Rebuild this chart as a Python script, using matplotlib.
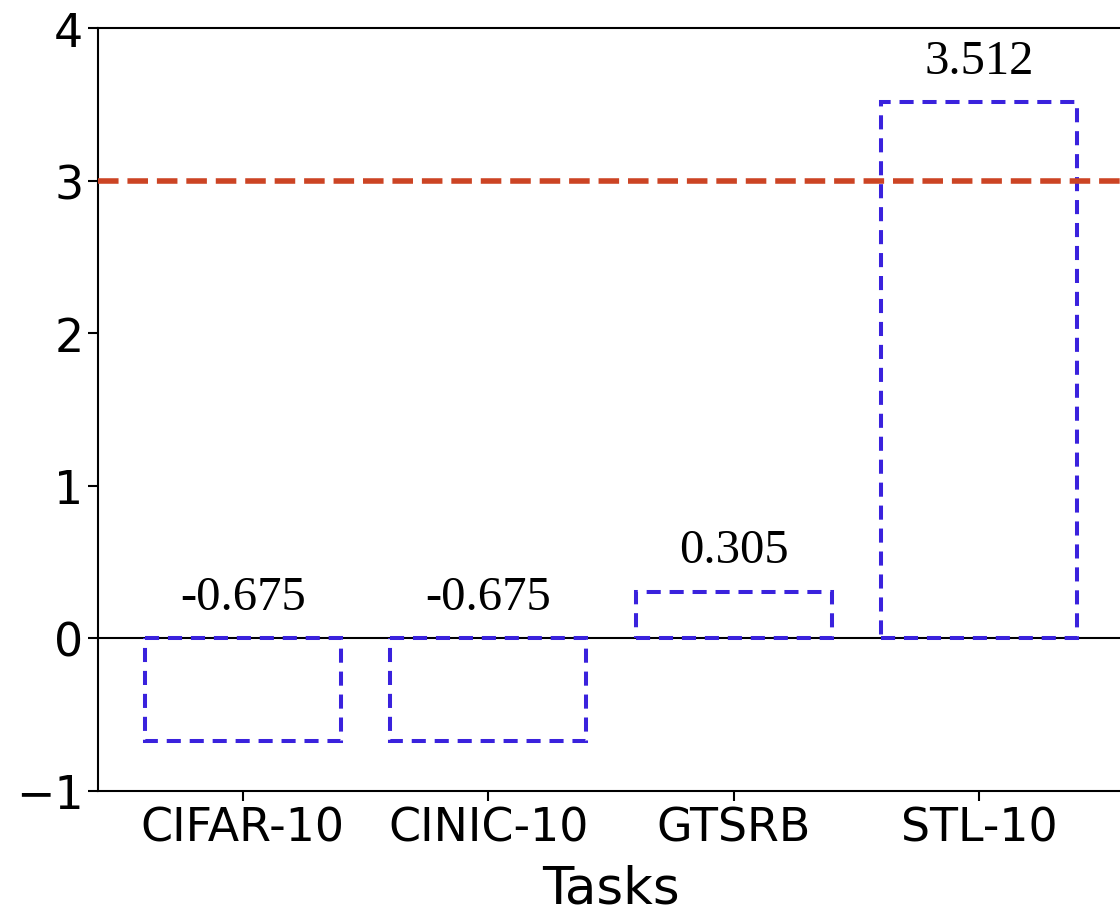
import numpy as np
import matplotlib
matplotlib.use("Agg")
import matplotlib.pyplot as plt

tasks = ["CIFAR-10", "CINIC-10", "GTSRB", "STL-10"]
values = [-0.675, -0.675, 0.305, 3.512]
labels = ["-0.675", "-0.675", "0.305", "3.512"]
threshold = 3.0


def main():
    fig = plt.figure(figsize=(11.2, 9.12), dpi=100)
    ax = fig.add_axes([0.0875, 0.1316, 0.916, 0.8366])

    x = np.arange(len(tasks))
    ax.axhline(0, color="black", linewidth=1.5, zorder=1)
    ax.bar(x, values, width=0.8, fill=False, edgecolor="#3a22dd",
           linestyle=(0, (3.5, 2.2)), linewidth=2.9, zorder=3)
    ax.axhline(threshold, color="#cc4424", linestyle="--", linewidth=4, zorder=4)

    for xi, v, lab in zip(x, values, labels):
        ax.text(xi, max(v, 0) + 0.13, lab, ha="center", va="bottom",
                fontsize=35, family="Liberation Serif")

    ax.set_ylim(-1, 4)
    ax.set_xticks(x)
    ax.set_xticklabels(tasks)
    ax.tick_params(labelsize=33, length=7, width=1.5)
    ax.set_xlabel("Tasks", fontsize=37, labelpad=9)
    for s in ax.spines.values():
        s.set_linewidth(1.5)

    fig.savefig("out.png", dpi=100)


if __name__ == "__main__":
    main()
